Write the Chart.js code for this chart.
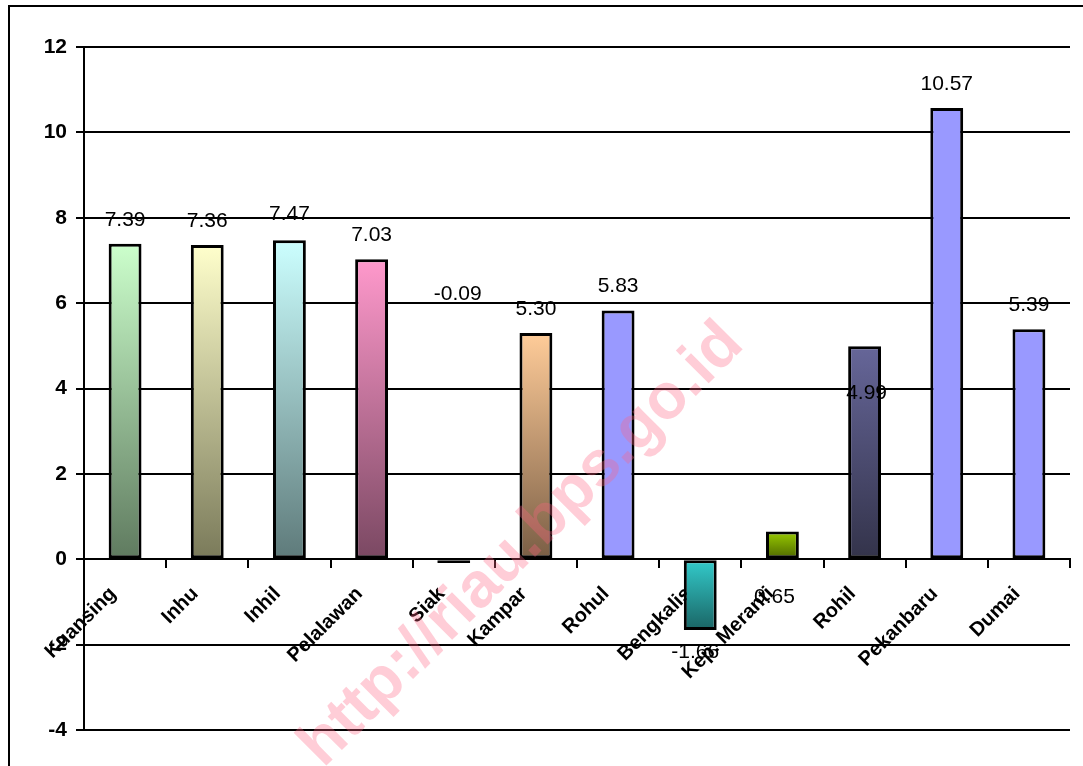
<!DOCTYPE html>
<html lang="id">
<head>
    <meta charset="UTF-8">
    <title>Pertumbuhan per Kabupaten/Kota</title>
    <script src="https://cdn.jsdelivr.net/npm/chart.js"></script>
    <style>
        body { margin: 0; background: #fff; }
        #wrap { width: 1083px; height: 766px; position: relative; }
    </style>
</head>
<body>
<div id="wrap">
    <canvas id="growthChart"></canvas>
</div>

<script>
    const regions = ['Kuansing', 'Inhu', 'Inhil', 'Pelalawan', 'Siak', 'Kampar', 'Rohul',
        'Bengkalis', 'Kep. Meranti', 'Rohil', 'Pekanbaru', 'Dumai'];
    const growth = [7.39, 7.36, 7.47, 7.03, -0.09, 5.30, 5.83, -1.66, 0.65, 4.99, 10.57, 5.39];
    const yTicks = [-4, -2, 0, 2, 4, 6, 8, 10, 12];

    // bar gradients (top -> bottom), flat bars use the same colour twice
    const topColors = ['#ccffcc', '#ffffcc', '#ccffff', '#ff99cc', '#990000', '#ffcc99', '#9999ff',
        '#33cccc', '#99cc00', '#666699', '#9999ff', '#9999ff'];
    const bottomColors = ['#5f7a5f', '#7a7a5a', '#5e7a7a', '#7a4862', '#660000', '#7a5e45', '#9999ff',
        '#1a6464', '#4d6600', '#33334a', '#9999ff', '#9999ff'];

    // the value labels in the original are not all sitting on their bars
    const labelDx = [0, 0, 0, 0, 4, 0, 0, -5, -8, 2, 0, 0];
    const labelDy = [0, 0, -2, 0, -291, 0, 0, 0, 90, 71, 0, 0];

    const FONT = '"Liberation Sans", Arial, sans-serif';

    function barFill(ctx, i) {
        const chart = ctx.chart;
        if (!chart.chartArea || !chart.scales.y) return topColors[i];
        const v = growth[i];
        const yTop = chart.scales.y.getPixelForValue(Math.max(v, 0));
        const yBot = chart.scales.y.getPixelForValue(Math.min(v, 0));
        if (yBot - yTop < 1) return topColors[i];
        const g = chart.ctx.createLinearGradient(0, yTop, 0, yBot);
        g.addColorStop(0, topColors[i]);
        g.addColorStop(1, bottomColors[i]);
        return g;
    }

    const valueLabels = {
        id: 'valueLabels',
        afterDatasetsDraw(chart) {
            const c = chart.ctx;
            const meta = chart.getDatasetMeta(0);
            c.save();
            c.font = '21px ' + FONT;
            c.fillStyle = '#000';
            c.textAlign = 'center';
            c.textBaseline = 'middle';
            meta.data.forEach((bar, i) => {
                const v = growth[i];
                const y = v >= 0 ? bar.y - 24 : bar.y + 22;
                c.fillText(v.toFixed(2), bar.x + labelDx[i], y + labelDy[i]);
            });
            c.restore();
        }
    };

    const frameAndMark = {
        id: 'frameAndMark',
        beforeDraw(chart) {
            const c = chart.ctx;
            c.save();
            c.strokeStyle = '#000';
            c.lineWidth = 2;
            c.strokeRect(9, 6, 1200, 1000);
            c.restore();
        },
        afterDraw(chart) {
            const c = chart.ctx;
            c.save();
            c.translate(522, 545);
            c.rotate(-Math.PI / 4);
            c.font = 'bold 64px ' + FONT;
            c.fillStyle = 'rgba(255, 100, 130, 0.32)';
            c.textAlign = 'center';
            c.textBaseline = 'middle';
            c.fillText('http://riau.bps.go.id', 0, 0);
            c.restore();
        }
    };

    new Chart(document.getElementById('growthChart'), {
        type: 'bar',
        data: {
            labels: regions,
            datasets: [{
                data: growth,
                backgroundColor: ctx => barFill(ctx, ctx.dataIndex),
                borderColor: '#000',
                borderWidth: 3,
                borderSkipped: false,
                barPercentage: 0.4,
                categoryPercentage: 1
            }]
        },
        options: {
            responsive: true,
            maintainAspectRatio: false,
            animation: false,
            layout: { padding: { top: 47, right: 13, bottom: 36, left: 0 } },
            plugins: { legend: { display: false }, tooltip: { enabled: false } },
            scales: {
                x: {
                    position: { y: 0 },
                    border: { color: '#000', width: 2 },
                    grid: { drawOnChartArea: false, color: '#000', lineWidth: 2, tickLength: 8, offset: true },
                    ticks: {
                        autoSkip: false,
                        maxRotation: 45,
                        minRotation: 45,
                        padding: 15,
                        labelOffset: -12,
                        color: '#000',
                        font: { family: FONT, size: 20, weight: 'bold' }
                    }
                },
                y: {
                    min: -4,
                    max: 12,
                    afterFit(scale) { scale.width = 84; },
                    afterBuildTicks(scale) { scale.ticks = yTicks.map(v => ({ value: v })); },
                    border: { color: '#000', width: 2 },
                    grid: { color: '#000', lineWidth: 2, tickLength: 8 },
                    ticks: {
                        padding: 9,
                        color: '#000',
                        font: { family: FONT, size: 21, weight: 'bold' }
                    }
                }
            }
        },
        plugins: [valueLabels, frameAndMark]
    });
</script>
</body>
</html>
